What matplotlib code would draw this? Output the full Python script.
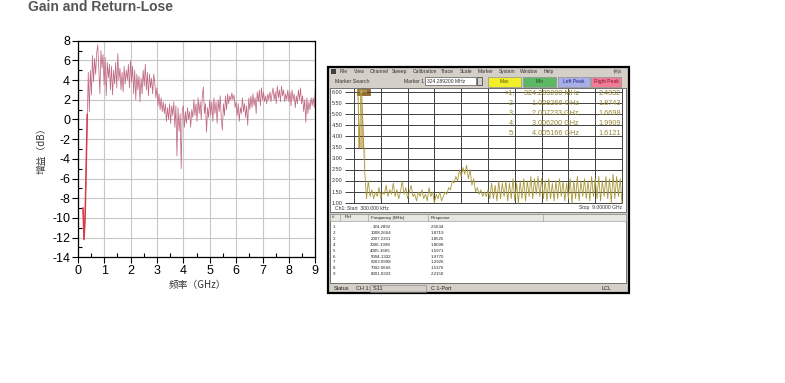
import numpy as np
import matplotlib.pyplot as plt
from matplotlib.patches import Rectangle

plt.rcParams['font.family'] = ['Liberation Sans', 'DejaVu Sans']
plt.rcParams['axes.unicode_minus'] = False

W, H = 785, 383

# ==========================================================
# DATA: measured gain (left chart), 0.2 .. 9.0 GHz, 0.04 GHz step
# ==========================================================

gain_db = [
    -9.0, -12.2, -10.0, -5.0, 0.5, 4.8, 0.8, 5.0, 2.5, 6.5,
    3.8, 6.2, 4.6, 6.8, 7.6, 5.0, 2.6, 7.0, 5.2, 6.6,
    # 1 GHz
    3.5, 6.3, 2.4, 5.8, 4.2, 5.6, 3.0, 5.4, 2.5, 5.0, 3.6, 5.8, 3.2,
    6.7, 4.0, 5.2, 3.0, 4.8, 2.8, 5.4, 3.6, 5.0, 4.0, 5.6, 3.2,
    # 2 GHz
    6.0, 3.8, 5.4, 2.6, 5.0, 2.0, 4.6, 3.0, 4.4, 1.8, 4.2, 2.6, 5.0,
    3.4, 5.6, 3.0, 4.8, 2.4, 4.6, 3.2, 4.2, 2.6, 4.6, 3.8, 2.2,
    # 3 GHz
    3.2, 1.4, 2.6, 1.0, 2.2, 0.8, 1.8, 0.6, 1.6, -0.2, 1.2, 0.0, 1.6,
    -0.4, 1.4, 0.4, 1.8, -0.8, 1.4, -3.7, 1.2, -1.2, 0.6, -5.0, 1.0,
    # 4 GHz
    1.4, -0.8, 0.8, -0.4, 1.2, 0.0, 0.8, -0.8, 1.0, 0.2, 2.0, 0.4, 1.6,
    -0.2, 2.2, 0.6, 1.8, 0.0, 2.4, 3.3, 0.6, 1.6, -1.3, 1.2, 0.2,
    # 5 GHz
    2.0, 0.4, 1.8, -0.2, 2.2, 0.6, 1.8, -0.4, 2.0, 0.8, 2.4, 0.0, -1.1,
    1.6, 0.4, 2.4, 1.0, 2.6, 1.6, 2.4, 2.0, 2.7, 2.0, 2.5, 1.2,
    # 6 GHz
    1.8, 0.4, 1.6, -0.2, 1.2, 0.6, 2.2, 0.8, 1.6, 0.2, 1.4, -0.6, 2.2,
    1.0, 2.4, 1.2, 2.6, 1.4, 2.2, 0.6, 2.8, 1.8, 3.0, 1.4, 3.2,
    # 7 GHz
    2.0, 2.8, 1.8, 2.4, 1.6, 2.6, 2.0, 2.8, 1.8, 2.6, 3.2, 2.0, 2.8,
    1.6, 3.4, 2.2, 3.0, 1.8, 3.4, 2.4, 3.0, 1.8, 2.6, 2.0, 3.0,
    # 8 GHz
    1.8, 2.8, 1.4, 3.0, 2.0, 2.6, 1.2, 2.4, 1.6, 3.0, 2.0, 3.2, 1.6,
    2.4, 0.8, 2.0, -0.3, 2.2, 0.6, 1.8, 1.0, 2.2, 1.4, 2.2, 1.2,
    3.2,
]
gain_freq = np.linspace(0.2, 9.0, len(gain_db))

# ==========================================================
# DATA: VNA screenshot trace (right panel), 0.12 .. 9.0 GHz
# ==========================================================

vna_vals = [
    6.5, 3.5, 6.5, 4.5, 2.4,
    1.2, 2.0, 1.3, 1.6, 1.2, 1.5, 1.3, 1.7, 1.2, 1.5, 1.4, 1.8, 1.3,
    1.6, 1.4, 1.9, 1.3, 1.6, 1.2, 1.5, 2.0, 1.4, 1.7, 1.2, 1.5, 1.8,
    1.3, 1.4, 1.1, 1.5, 1.3, 1.6, 1.2, 1.4, 1.1, 1.7, 1.3, 1.5, 1.0,
    1.4, 1.2, 1.5, 1.1, 1.3,
    1.5, 1.4, 1.7, 1.6, 2.0, 1.9, 2.2, 2.0, 2.5, 2.2, 2.6, 2.3, 2.7,
    2.1, 2.5, 1.8, 2.1, 1.5, 1.7, 1.4, 1.6, 1.3, 1.5, 1.3, 1.6, 1.2,
    1.9, 1.2, 1.8, 1.1, 2.0, 1.2, 1.9, 1.3, 2.0, 1.1, 1.9, 1.2, 2.1,
    1.1, 1.9, 1.0, 2.0, 1.2, 2.1, 1.1, 2.0, 1.3, 2.2, 1.2, 2.1, 1.4,
    2.2, 1.3, 2.1, 1.2, 2.0, 1.1, 2.1, 1.2, 1.9, 1.1, 2.0, 1.2, 2.1,
    1.3, 2.0, 1.1, 1.9, 1.2, 2.1, 1.0, 2.0, 1.2, 2.2, 1.1, 2.0, 1.3,
    2.1, 1.2, 2.0, 1.1, 2.2, 1.3, 2.1, 1.2, 2.2, 1.1, 2.0, 1.3, 2.2,
    1.2, 2.1, 1.0, 2.3, 1.2, 2.2, 1.3, 2.1, 1.0,
]
vna_freq = np.linspace(0.12, 9.0, len(vna_vals))

menu_items = ["File", "View", "Channel", "Sweep", "Calibration", "Trace",
              "Scale", "Marker", "System", "Window", "Help"]
menu_x = [340, 354, 370, 392, 413, 441, 460, 478, 499, 520, 544]

buttons = ["Max", "Min", "Left Peak", "Right Peak"]
button_colors = ["#f2ee2a", "#5cb865", "#a8aee6", "#f07c96"]
button_text_colors = ["#555500", "#1c4c20", "#222288", "#881030"]
button_x = [488, 523, 558, 591]
button_w = [33, 33, 32, 30]

vna_ylabels = ["6.00", "5.50", "5.00", "4.50", "4.00", "3.50",
               "3.00", "2.50", "2.00", "1.50", "1.00"]
vna_yvals = [6.0, 5.5, 5.0, 4.5, 4.0, 3.5, 3.0, 2.5, 2.0, 1.5, 1.0]

marker_ids = [">1:", "2:", "3:", "4:", "5:"]
marker_freqs = ["324.289200 MHz", "1.008266 GHz", "2.007233 GHz",
                "3.006200 GHz", "4.005166 GHz"]
marker_resp = ["2.4332", "1.8743", "1.6698", "1.9909", "1.6121"]

table_cols = ["#", "Ref", "Frequency (MHz)", "Response"]
table_freq = ["324.2892", "1008.2664", "2007.2331", "3006.1998", "4005.1665",
              "5004.1332", "6003.0998", "7002.0666", "8001.0333"]
table_resp = ["2.5634", "1.8719", "1.8525", "1.8098", "1.5971",
              "1.9770", "1.2926", "1.5376", "2.2150"]


def fx(x):
    return x / W


def fy(y):
    return 1 - y / H


def box(x0, y0, x1, y1):
    return [fx(x0), fy(y1), fx(x1) - fx(x0), fy(y0) - fy(y1)]


fig = plt.figure(figsize=(W / 100, H / 100), dpi=100)

fig.text(fx(28), fy(7), "Gain and Return-Lose", fontsize=10,
         fontweight="bold", color="#555555", ha="left", va="center")

# ==========================================================
# LEFT CHART
# ==========================================================

ax = fig.add_axes(box(77.7, 40.7, 315.3, 257.3))
ax.plot(gain_freq, gain_db, color="#c06a82", linewidth=0.55)
ax.plot(gain_freq[:5], gain_db[:5], color="#d83a46", linewidth=1.1)

ax.set_xlim(0, 9)
ax.set_ylim(-14, 8)
ax.set_xticks(np.arange(0, 10, 1))
ax.set_yticks(np.arange(-14, 9, 2))
ax.set_xticks(np.arange(0.5, 9, 1), minor=True)
ax.set_yticks(np.arange(-13, 8, 2), minor=True)
ax.tick_params(which="major", direction="out", length=4, width=0.8,
               labelsize=9, pad=1.5, colors="black")
ax.tick_params(which="minor", direction="in", length=3, width=0.8)
ax.grid(True, which="major", color="#c8c8c8", linewidth=0.8)
for s in ax.spines.values():
    s.set_linewidth(0.9)

fig.text(fx(42), fy(148), "增益（dB）", rotation=90, fontsize=7,
         family=["Noto Sans CJK SC", "DejaVu Sans"], ha="center", va="center",
         color="#333333")
fig.text(fx(197), fy(285), "频率（GHz）", fontsize=7,
         family=["Noto Sans CJK SC", "DejaVu Sans"], ha="center", va="center",
         color="#333333")

# ==========================================================
# RIGHT PANEL: VNA WINDOW
# ==========================================================

ui = fig.add_axes([0, 0, 1, 1], zorder=0)
ui.set_xlim(0, W)
ui.set_ylim(H, 0)
ui.axis("off")

gray = "#d4d0c8"
ui.add_patch(Rectangle((328, 67), 301, 226, facecolor=gray,
                       edgecolor="black", linewidth=1.6))

# menu bar
ui.add_patch(Rectangle((331, 68.5), 5, 5, facecolor="#404040", edgecolor="none"))
for name, x in zip(menu_items, menu_x):
    ui.text(x, 72.8, name, fontsize=3.6, va="baseline", ha="left", color="#333333")
ui.text(622, 72.8, "-|#|x", fontsize=3.4, va="baseline", ha="right", color="#333333")

# toolbar
ui.text(335, 83, "Marker Search", fontsize=3.8, va="baseline", ha="left", color="#333333")
ui.text(404, 83, "Marker 1", fontsize=3.6, va="baseline", ha="left", color="#333333")
ui.add_patch(Rectangle((425, 77), 51, 8, facecolor="white", edgecolor="#707070", linewidth=0.6))
ui.text(427, 82.6, "324.289200 MHz", fontsize=3.6, va="baseline", ha="left", color="#333333")
ui.add_patch(Rectangle((477, 77), 5, 8, facecolor=gray, edgecolor="#505050", linewidth=0.6))
for label, c, tc, x, w in zip(buttons, button_colors, button_text_colors, button_x, button_w):
    ui.add_patch(Rectangle((x, 77), w, 10, facecolor=c, edgecolor="#909090", linewidth=0.5))
    ui.text(x + w / 2, 83.3, label, fontsize=3.6, va="baseline", ha="center", color=tc)

# table
ui.add_patch(Rectangle((330, 214), 296, 69, facecolor="white", edgecolor="#606060", linewidth=0.6))
ui.add_patch(Rectangle((330, 214), 296, 7, facecolor="#e8e6e0", edgecolor="#909090", linewidth=0.4))
for xs in [340, 368, 428, 543]:
    ui.plot([xs, xs], [214, 221], color="#909090", linewidth=0.4)
for name, x in zip(table_cols, [332, 345, 371, 431]):
    ui.text(x, 217.5, name, fontsize=3.2, va="center", ha="left", color="#222222")
for i, (f, r) in enumerate(zip(table_freq, table_resp)):
    yy = 227 + i * 5.9
    ui.text(333, yy, str(i + 1), fontsize=3.2, va="center", ha="left", color="#222222")
    ui.text(391, yy, f, fontsize=3.2, va="center", ha="right", color="#222222")
    ui.text(431, yy, r, fontsize=3.2, va="center", ha="left", color="#222222")

# status bar
ui.text(334, 288.5, "Status", fontsize=4.0, va="center", ha="left", color="#222222")
ui.text(356, 288.5, "CH 1:  S11", fontsize=4.0, va="center", ha="left", color="#222222")
ui.add_patch(Rectangle((370, 285), 56, 7, facecolor="none", edgecolor="#909090", linewidth=0.5))
ui.text(431, 288.5, "C 1-Port", fontsize=4.0, va="center", ha="left", color="#222222")
ui.text(602, 288.5, "LCL", fontsize=4.0, va="center", ha="left", color="#222222")

# plot area
vx = fig.add_axes(box(330, 88, 626, 212), zorder=1)
vx.set_facecolor("white")
vx.set_xlim(-0.806, 9.134)
vx.set_ylim(0.60, 6.18)
vx.set_xticks([])
vx.set_yticks([])
for s in vx.spines.values():
    s.set_color("#707070")
    s.set_linewidth(0.7)

vx.vlines(np.arange(0, 9.01, 0.9), 1.0, 6.18, color="#404040", linewidth=0.7)
vx.hlines(vna_yvals, -0.3, 9.0, color="#404040", linewidth=0.7)
for lab, v in zip(vna_ylabels, vna_yvals):
    vx.text(-0.76, v, lab, fontsize=4.0, va="center", ha="left", color="#333333")

vf = np.array(vna_freq)
vv = np.array(vna_vals)
spike = vf < 0.4
vx.fill_between(vf[spike], 3.5, np.minimum(vv[spike], 6.2), color="#c8a860", alpha=0.8, linewidth=0)
vx.plot(vna_freq, vna_vals, color="#a89838", linewidth=0.6)
vx.add_patch(Rectangle((0.1, 5.85), 0.45, 0.3, facecolor="#9a7020", edgecolor="#604010", linewidth=0.4))
vx.text(0.32, 6.0, "1.000", fontsize=2.6, va="center", ha="center", color="#f0e0a0")

mk_color = "#968632"
for i, (mid, mf, mr) in enumerate(zip(marker_ids, marker_freqs, marker_resp)):
    yy = 5.95 - i * 0.45
    vx.text(5.4, yy, mid, fontsize=5.2, va="center", ha="right", color=mk_color)
    vx.text(7.55, yy, mf, fontsize=5.2, va="center", ha="right", color=mk_color)
    vx.text(8.95, yy, mr, fontsize=5.2, va="center", ha="right", color=mk_color)

vx.text(-0.65, 0.78, "Ch1: Start  300.000 kHz", fontsize=3.6, va="center", ha="left", color="#333333")
vx.text(9.0, 0.78, "Stop  9.00000 GHz", fontsize=3.6, va="center", ha="right", color="#333333")

fig.savefig("out.png", dpi=100)
